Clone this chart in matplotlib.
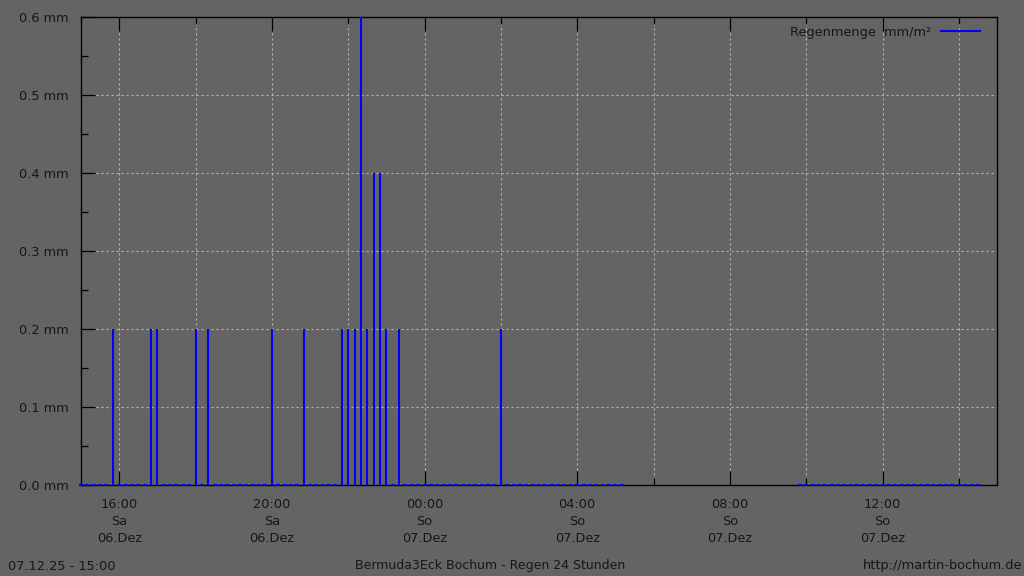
import matplotlib
matplotlib.use("Agg")
import matplotlib.pyplot as plt
import matplotlib.dates as mdates
import numpy as np
import pandas as pd

# time window (24 h)
startTime = "2025-12-06 15:00"
endTime = "2025-12-07 15:00"

# periods with logged 10-minute readings (dots on the baseline)
logPeriods = [("2025-12-06 15:00", "2025-12-07 05:10"),
              ("2025-12-07 09:50", "2025-12-07 14:30")]

# readings with rain (mm)
rainTimes = ["2025-12-06 15:50", "2025-12-06 16:50", "2025-12-06 17:00",
             "2025-12-06 18:00", "2025-12-06 18:20", "2025-12-06 20:00",
             "2025-12-06 20:50", "2025-12-06 21:50", "2025-12-06 22:00",
             "2025-12-06 22:10", "2025-12-06 22:20", "2025-12-06 22:30",
             "2025-12-06 22:40", "2025-12-06 22:50", "2025-12-06 23:00",
             "2025-12-06 23:20", "2025-12-07 02:00"]
rainValues = [0.2, 0.2, 0.2,
              0.2, 0.2, 0.2,
              0.2, 0.2, 0.2,
              0.2, 0.6, 0.2,
              0.4, 0.4, 0.2,
              0.2, 0.2]

yTicks = [0.0, 0.1, 0.2, 0.3, 0.4, 0.5, 0.6]
dayNames = {5: "Sa", 6: "So"}

footerLeft = "07.12.25 - 15:00"
footerCenter = "Bermuda3Eck Bochum - Regen 24 Stunden"
footerRight = "http://martin-bochum.de"
legendText = "Regenmenge  mm/m²"

bg = "#646464"
txt = "#161616"
blue = "#0000ff"
fs = 9.3

# build the series
stamps = pd.DatetimeIndex([])
for a, b in logPeriods:
    stamps = stamps.append(pd.date_range(a, b, freq="10min"))
df = pd.DataFrame({"time": stamps, "rain": 0.0})
rain = pd.DataFrame({"time": pd.to_datetime(rainTimes), "rain": rainValues})
df = pd.concat([df[~df["time"].isin(rain["time"])], rain]).sort_values("time")

plt.rcParams["font.family"] = "DejaVu Sans"
fig = plt.figure(figsize=(10.24, 5.76), dpi=100, facecolor=bg)
ax = fig.add_axes([81 / 1024, 1 - 485 / 576, 916 / 1024, 468 / 576])
ax.set_facecolor(bg)

t = mdates.date2num(df["time"].to_numpy())
v = df["rain"].to_numpy()
ax.vlines(t[v > 0], 0, v[v > 0], color=blue, linewidth=1.5, zorder=3)
ax.plot(t[v == 0], v[v == 0], linestyle="none", marker="_", markersize=2.2,
        markeredgewidth=1.5, color=blue, zorder=4, clip_on=False)

ax.set_xlim(mdates.datestr2num(startTime), mdates.datestr2num(endTime))
ax.set_ylim(0, 0.6)

# y axis
ax.set_yticks(yTicks)
ax.set_yticklabels([f"{y:.1f} mm" for y in yTicks])
ax.set_yticks(np.array(yTicks[:-1]) + 0.05, minor=True)

# x axis: labels every 4 h, minor ticks every 2 h
labTicks = pd.date_range("2025-12-06 16:00", "2025-12-07 12:00", freq="4h")
minTicks = pd.date_range("2025-12-06 18:00", "2025-12-07 14:00", freq="4h")
ax.set_xticks(mdates.date2num(labTicks.to_numpy()))
ax.set_xticklabels([f"{d:%H:%M}\n{dayNames[d.weekday()]}\n{d:%d}.Dez" for d in labTicks],
                   linespacing=1.45)
ax.set_xticks(mdates.date2num(minTicks.to_numpy()), minor=True)

ax.tick_params(which="both", direction="in", colors="black", labelcolor=txt,
               labelsize=fs, width=0.9, top=True, right=False)
ax.tick_params(which="major", length=10)
ax.tick_params(which="minor", length=5)
ax.tick_params(axis="x", pad=9)
ax.tick_params(axis="y", pad=8.6)

for ticks in (ax.get_xticks(), ax.get_xticks(minor=True)):
    for x in ticks:
        ax.axvline(x, color="#b4b4b4", linestyle=(0, (2, 2.5)), linewidth=0.8, zorder=1)
for y in yTicks[1:-1]:
    ax.axhline(y, color="#b4b4b4", linestyle=(0, (2, 2.5)), linewidth=0.8, zorder=1)

for s in ["left", "bottom", "top", "right"]:
    ax.spines[s].set_color("black")
    ax.spines[s].set_linewidth(1.0)
    ax.spines[s].set_zorder(2)

# legend
ax.plot([], [], color=blue, linewidth=1.5, label=legendText)
leg = ax.legend(loc="upper right", frameon=False, fontsize=fs, handlelength=3.0,
                handletextpad=0.78, markerfirst=False, borderaxespad=0, borderpad=0,
                bbox_to_anchor=(0.9815, 0.981))
for txtObj in leg.get_texts():
    txtObj.set_color(txt)

fig.text(8 / 1024, 1 - 566 / 576, footerLeft, fontsize=fs, color=txt, va="center", ha="left")
fig.text(490 / 1024, 1 - 566 / 576, footerCenter, fontsize=9.0, color=txt, va="center", ha="center")
fig.text(1022 / 1024, 1 - 566 / 576, footerRight, fontsize=fs, color=txt, va="center", ha="right")

fig.savefig("out.png", dpi=100, facecolor=bg)
